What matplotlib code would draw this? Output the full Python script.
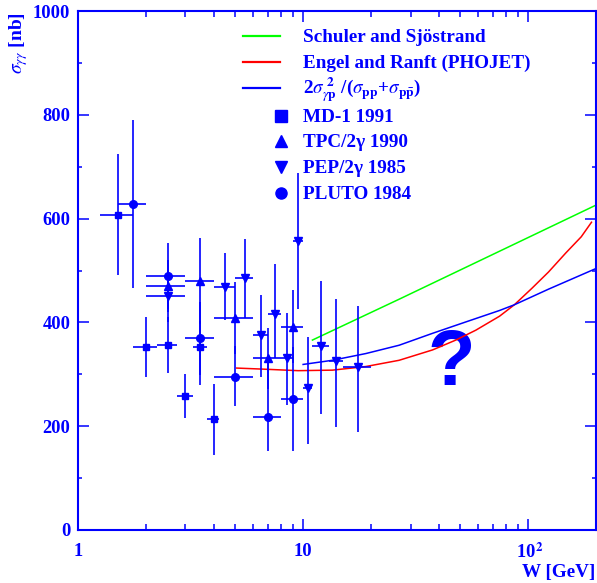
import matplotlib
matplotlib.use("Agg")
import matplotlib.pyplot as plt
from matplotlib.lines import Line2D
from matplotlib.ticker import FixedLocator, FixedFormatter, MultipleLocator

# MD-1 1991 (squares)
md1_w = [1.5, 2.0, 2.5, 3.0, 3.5, 4.0]
md1_wlo = [1.25, 1.75, 2.25, 2.75, 3.25, 3.75]
md1_whi = [1.75, 2.25, 2.75, 3.25, 3.75, 4.25]
md1_sig = [607, 352, 356, 259, 352, 214]
md1_up = [118, 58, 54, 42, 50, 68]
md1_dn = [116, 58, 53, 43, 72, 69]

# TPC/2gamma 1990 (triangles up)
tpc_w = [2.5, 3.5, 5.0, 7.0, 9.0]
tpc_wlo = [2.0, 3.0, 4.0, 6.0, 8.0]
tpc_whi = [3.0, 4.0, 6.0, 8.0, 10.0]
tpc_sig = [470, 479, 408, 331, 392]
tpc_up = [50, 83, 69, 59, 70]
tpc_dn = [50, 83, 69, 59, 70]

# PEP/2gamma 1985 (triangles down)
pep_w = [2.5, 4.5, 5.5, 6.5, 7.5, 8.5, 9.5, 10.5, 12.0, 14.0, 17.5]
pep_wlo = [2.0, 4.0, 5.0, 6.0, 7.0, 8.0, 9.0, 10.0, 11.0, 13.0, 15.0]
pep_whi = [3.0, 5.0, 6.0, 7.0, 8.0, 9.0, 10.0, 11.0, 13.0, 15.0, 20.0]
pep_sig = [450, 468, 485, 376, 417, 332, 556, 274, 354, 326, 314]
pep_up = [50, 65, 75, 77, 95, 87, 132, 97, 125, 120, 117]
pep_dn = [50, 64, 77, 82, 85, 92, 131, 108, 130, 127, 125]

# PLUTO 1984 (circles)
pluto_w = [1.75, 2.5, 3.5, 5.0, 7.0, 9.0]
pluto_wlo = [1.5, 2.0, 3.0, 4.0, 6.0, 8.0]
pluto_whi = [2.0, 3.0, 4.0, 6.0, 8.0, 10.0]
pluto_sig = [628, 489, 369, 294, 218, 253]
pluto_up = [162, 64, 70, 60, 110, 100]
pluto_dn = [162, 64, 70, 56, 65, 100]

# model curves
schuler_w = [11.0, 26.8, 200.0]
schuler_sig = [366, 445, 626]
phojet_w = [5.07, 6.6, 9.5, 13.5, 19.0, 26.7, 37.6, 47.7, 58.5, 74.6, 86.8, 104, 123, 147, 172, 191]
phojet_sig = [312, 310, 307, 308, 315, 327, 347, 366, 385, 412, 434, 466, 497, 534, 565, 593]
fact_w = [10.0, 13.5, 19.0, 26.7, 37.6, 52.9, 74.6, 86.8, 123, 198]
fact_sig = [319, 327, 340, 356, 379, 401, 423, 434, 464, 503]

x_ticks = [1, 10, 100]
x_ticklabels = ["1", "10", r" 10$^{\mathbf{2}}$"]
y_ticks = [0, 200, 400, 600, 800, 1000]

legend_labels = [
    "Schuler and Sjöstrand",
    "Engel and Ranft (PHOJET)",
    r"2$\sigma_{\gamma \mathbf{p}}^{\ \mathbf{2}}$ /($\sigma_{\mathbf{pp}}$+$\sigma_{\mathbf{p\bar{p}}}$)",
    "MD-1 1991",
    "TPC/2γ 1990",
    "PEP/2γ 1985",
    "PLUTO 1984",
]

BLUE = "#0000ff"
W_PX, H_PX = 597, 583


def fx(px):
    return px / W_PX


def fy(py):
    return 1 - py / H_PX


def draw_set(ax, w, wlo, whi, sig, up, dn, marker, ms):
    xerr = [[a - b for a, b in zip(w, wlo)], [b - a for a, b in zip(w, whi)]]
    ax.errorbar(w, sig, xerr=xerr, yerr=[dn, up], fmt=marker, ms=ms,
                color=BLUE, ecolor=BLUE, elinewidth=1.2, capsize=0, zorder=3)


def draw_legend(fig):
    styles = [("line", "#00ff00"), ("line", "#ff0000"), ("line", BLUE),
              ("s", None), ("^", None), ("v", None), ("o", None)]
    rows = [36, 62, 88, 116, 141, 167, 193]
    for (kind, col), label, row in zip(styles, legend_labels, rows):
        if kind == "line":
            fig.add_artist(Line2D([fx(243), fx(280)], [fy(row), fy(row)],
                                  color=col, lw=1.6, transform=fig.transFigure))
        else:
            fig.add_artist(Line2D([fx(281)], [fy(row)], marker=kind, ms=8,
                                  color=BLUE, lw=0, transform=fig.transFigure))
        fig.text(fx(303), fy(row + 6), label, fontsize=13.8, fontweight="bold",
                 color=BLUE, ha="left", va="baseline")


def main():
    plt.rcParams["font.family"] = ["Liberation Serif", "DejaVu Serif"]
    plt.rcParams["mathtext.fontset"] = "stix"

    fig = plt.figure(figsize=(W_PX / 100, H_PX / 100), dpi=100)
    ax = fig.add_axes([fx(78), fy(530), fx(596) - fx(78), fy(11) - fy(530)])

    ax.plot(schuler_w, schuler_sig, color="#00ff00", lw=1.1, zorder=2)
    ax.plot(phojet_w, phojet_sig, color="#ff0000", lw=1.1, zorder=2)
    ax.plot(fact_w, fact_sig, color=BLUE, lw=1.1, zorder=2)

    draw_set(ax, md1_w, md1_wlo, md1_whi, md1_sig, md1_up, md1_dn, "s", 5)
    draw_set(ax, tpc_w, tpc_wlo, tpc_whi, tpc_sig, tpc_up, tpc_dn, "^", 5.5)
    draw_set(ax, pep_w, pep_wlo, pep_whi, pep_sig, pep_up, pep_dn, "v", 5.5)
    draw_set(ax, pluto_w, pluto_wlo, pluto_whi, pluto_sig, pluto_up, pluto_dn, "o", 5.5)

    # big question mark sits under the curves
    ax.text(45.5, 279, "?", fontsize=56, fontweight="bold", family="Liberation Sans",
            color=BLUE, ha="center", va="baseline", zorder=1)

    ax.set_xscale("log")
    ax.set_xlim(1, 200)
    ax.set_ylim(0, 1000)

    ax.xaxis.set_major_locator(FixedLocator(x_ticks))
    ax.xaxis.set_major_formatter(FixedFormatter(x_ticklabels))
    ax.yaxis.set_major_locator(FixedLocator(y_ticks))
    ax.yaxis.set_minor_locator(MultipleLocator(100))

    for sp in ax.spines.values():
        sp.set_color(BLUE)
        sp.set_linewidth(1.5)
    ax.tick_params(which="both", direction="in", top=True, right=True,
                   color=BLUE, width=1.1, labelcolor=BLUE, labelsize=13.3)
    ax.tick_params(which="major", length=8)
    ax.tick_params(axis="x", which="minor", length=4.3)
    ax.tick_params(axis="y", which="minor", length=3.1)
    ax.tick_params(axis="x", which="major", pad=9)
    ax.tick_params(axis="y", which="major", pad=5.5)
    for lab in ax.get_xticklabels() + ax.get_yticklabels():
        lab.set_fontweight("bold")

    fig.text(fx(595), fy(572), "W [GeV]", fontsize=13.8, fontweight="bold",
             color=BLUE, ha="right", va="center")
    fig.text(fx(19), fy(12), r"$\sigma_{\gamma\gamma}$ [nb]", fontsize=14,
             fontweight="bold", color=BLUE, rotation=90, ha="center", va="top")

    draw_legend(fig)
    fig.savefig("out.png", dpi=100)


if __name__ == "__main__":
    main()
